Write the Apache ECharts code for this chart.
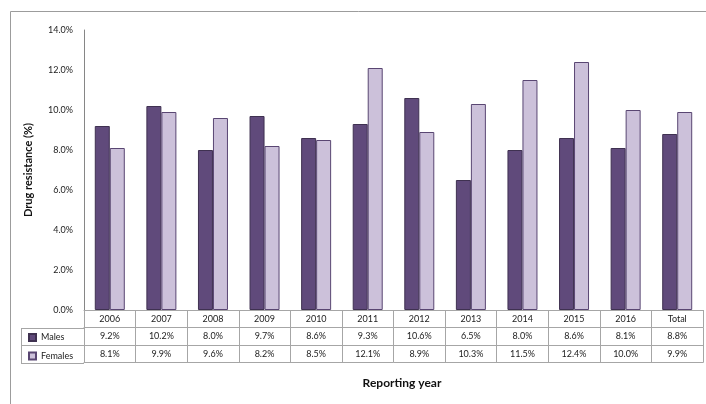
<!DOCTYPE html>
<html>
<head>
<meta charset="utf-8">
<script src="https://cdn.jsdelivr.net/npm/echarts@6/dist/echarts.min.js"></script>
<style>
  html, body { margin: 0; padding: 0; background: #fff; }
  #chart { width: 706px; height: 404px; }
</style>
</head>
<body>
<div id="chart"></div>
<script>
// Reporting years (table header row)
const years = ['2006', '2007', '2008', '2009', '2010', '2011', '2012', '2013', '2014', '2015', '2016', 'Total'];
// Drug resistance by sex, percent
const males   = [9.2, 10.2, 8.0, 9.7, 8.6, 9.3, 10.6, 6.5, 8.0, 8.6, 8.1, 8.8];
const females = [8.1, 9.9, 9.6, 8.2, 8.5, 12.1, 8.9, 10.3, 11.5, 12.4, 10.0, 9.9];
// Value axis range
const yMin = 0, yMax = 14, yStep = 2;

const FONT = 'Lato, "Open Sans", sans-serif';
const GRID_COLOR = '#a6a6a6';
const ROW = 17.5;
const pct = v => v.toFixed(1) + '%';

const chart = echarts.init(document.getElementById('chart'), null, { renderer: 'canvas' });

// One category axis per table row; the axis line and ticks draw the cell borders
function tableAxis(offset, labels) {
  return {
    type: 'category',
    data: years,
    gridIndex: 0,
    position: 'bottom',
    offset: offset,
    axisLine: { show: true, onZero: false, lineStyle: { color: GRID_COLOR, width: 1 } },
    axisTick: { show: !!labels, length: ROW, lineStyle: { color: GRID_COLOR, width: 1 } },
    axisLabel: labels ? {
      show: true,
      interval: 0,
      margin: ROW / 2,
      verticalAlign: 'middle',
      fontFamily: FONT,
      fontSize: 9,
      color: '#222',
      formatter: labels
    } : { show: false },
    splitLine: { show: false }
  };
}

const option = {
  backgroundColor: '#ffffff',
  animation: false,
  grid: { left: 84, right: 3, top: 30, bottom: 94, containLabel: false },
  legend: {
    orient: 'vertical',
    left: 23,
    top: 328,
    itemWidth: 7,
    itemHeight: 7,
    itemGap: 9.5,
    icon: 'rect',
    textStyle: { fontFamily: FONT, fontSize: 9, color: '#222', lineHeight: 8 },
    data: ['Males', 'Females']
  },
  xAxis: [
    tableAxis(0, v => v),
    tableAxis(ROW, (v, i) => pct(males[i])),
    tableAxis(ROW * 2, (v, i) => pct(females[i])),
    tableAxis(ROW * 3, null)
  ],
  yAxis: {
    type: 'value',
    min: yMin,
    max: yMax,
    interval: yStep,
    name: 'Drug resistance (%)',
    nameLocation: 'middle',
    nameRotate: 90,
    nameGap: 50,
    nameTextStyle: { fontFamily: FONT, fontSize: 11, fontWeight: 'bold', color: '#111' },
    axisLine: { show: true, lineStyle: { color: '#868686', width: 1 } },
    axisTick: { show: false },
    splitLine: { show: false },
    axisLabel: {
      margin: 11,
      fontFamily: FONT,
      fontSize: 9,
      color: '#222',
      formatter: v => pct(v)
    }
  },
  series: [
    {
      name: 'Males',
      type: 'bar',
      xAxisIndex: 0,
      data: males,
      barWidth: 15,
      barGap: '0%',
      itemStyle: { color: '#604a7b', borderColor: '#3f3151', borderWidth: 1 }
    },
    {
      name: 'Females',
      type: 'bar',
      xAxisIndex: 0,
      data: females,
      barWidth: 15,
      barGap: '0%',
      itemStyle: { color: '#ccc1da', borderColor: '#594672', borderWidth: 1 }
    }
  ]
};

chart.setOption(option);

// Legend column cell borders and outer frame, placed from the grid's pixel box
const rect = chart.getModel().getComponent('grid', 0).coordinateSystem.getRect();
const base = rect.y + rect.height;
const leftX = 21;
const cellLines = [];
for (let r = 1; r <= 3; r++) {
  const y = Math.round(base + ROW * r) + 0.5;
  cellLines.push({ type: 'line', shape: { x1: leftX, y1: y, x2: rect.x, y2: y }, style: { stroke: GRID_COLOR, lineWidth: 1 } });
}
cellLines.push({
  type: 'line',
  shape: { x1: leftX + 0.5, y1: Math.round(base + ROW) + 0.5, x2: leftX + 0.5, y2: Math.round(base + ROW * 3) + 0.5 },
  style: { stroke: GRID_COLOR, lineWidth: 1 }
});

chart.setOption({
  graphic: [
    {
      type: 'rect',
      shape: { x: 10.5, y: 11.5, width: 760, height: 460 },
      style: { fill: 'none', stroke: '#9c9c9c', lineWidth: 1 },
      silent: true, z: -1
    },
    ...cellLines,
    {
      type: 'text',
      x: 402,
      y: 383,
      style: {
        text: 'Reporting year',
        fontFamily: FONT,
        fontSize: 12,
        fontWeight: 'bold',
        fill: '#111',
        align: 'center',
        verticalAlign: 'middle'
      }
    }
  ]
});
</script>
</body>
</html>
